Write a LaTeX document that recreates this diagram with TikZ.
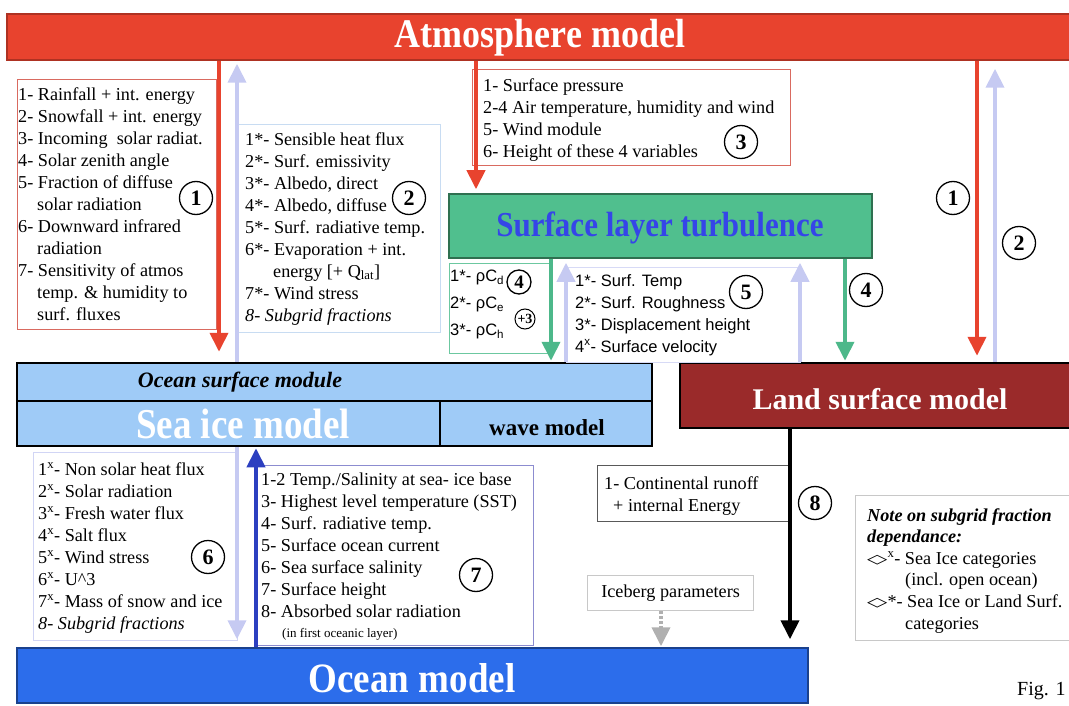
\documentclass[tikz,border=0pt]{standalone}
\usepackage{fontspec}
\usepackage{graphicx}
\setmainfont{Liberation Serif}
\newfontfamily\arialf{Liberation Sans}
\newfontfamily\djvb{DejaVu Sans Bold}
\usetikzlibrary{arrows.meta}
\definecolor{atmred}{HTML}{E8432E}
\definecolor{lav}{HTML}{C6CAF2}
\definecolor{grn}{HTML}{50BF8E}
\definecolor{grndark}{HTML}{2F7050}
\definecolor{grnarr}{HTML}{4DB88A}
\definecolor{sltblue}{HTML}{3545E8}
\definecolor{osmfill}{HTML}{9FCBF7}
\definecolor{landfill}{HTML}{9A2A2A}
\definecolor{oceanfill}{HTML}{2C6DEB}
\definecolor{bluearr}{HTML}{2C3FC0}
\definecolor{redbox}{HTML}{D96A60}
\definecolor{lbluebox}{HTML}{C8DCF2}
\definecolor{grnbox}{HTML}{6CC8A0}
\definecolor{box7}{HTML}{8C8CD0}
\definecolor{graybox}{HTML}{C8C8C8}
\definecolor{grayarr}{HTML}{B0B0B0}
\newcommand{\dia}{\raisebox{1pt}{\scalebox{1.45}[0.7]{\djvb ◇}}}
\newcommand{\tall}[1]{\scalebox{1}[1.13]{#1}}
\begin{document}
\begin{tikzpicture}[x=1pt,y=-1pt,
  bx/.style={draw=#1, line width=1.2pt, anchor=north west, inner sep=0pt},
  model/.style={inner sep=0pt, line width=1.5pt, text=white, font=\bfseries\fontsize{#1}{#1}\selectfont},
  ttl/.style={inner sep=0pt, font=\bfseries\fontsize{#1}{#1}\selectfont},
  txt/.style={anchor=north west, align=left, inner sep=0pt, font=\fontsize{18.2}{22}\selectfont},
  stxt/.style={anchor=north west, align=left, inner sep=0pt, font=\arialf\fontsize{16.5}{22}\selectfont},
  circ/.style={circle, draw, line width=1.3pt, inner sep=0pt, minimum size=33pt, font=\bfseries\fontsize{22}{22}\selectfont},
  arr/.style={line width=4pt, -{Triangle[width=18pt,length=19pt]}}
]
\useasboundingbox (0,0) rectangle (1069,706);

% model boxes
\node[draw=atmred!75!black, fill=atmred, line width=1.5pt, minimum width=1068pt, minimum height=46pt] (atm) at (541,37) {};
\node[draw=grndark, fill=grn, line width=1.5pt, minimum width=423pt, minimum height=64pt] (slt) at (660.5,226) {};
\node[draw=black, fill=osmfill, line width=2.5pt, inner sep=0pt, minimum width=635pt, minimum height=83pt] (osm) at (334.5,404.5) {};
\node[draw=black, fill=landfill, line width=2.5pt, minimum width=395pt, minimum height=65pt] (land) at (877.5,395.5) {};
\node[draw=oceanfill!60!black, fill=oceanfill, line width=1.5pt, minimum width=791pt, minimum height=55pt] (ocean) at (412.5,675.5) {};

\node[ttl=36, text=white] (atmt) at (540,38) {\tall{Atmosphere model}};
\node[ttl=31, text=sltblue] (sltt) at (660,228) {\tall{Surface layer turbulence}};
\node[ttl=30, text=white] (landt) at (880,399) {Land surface model};
\node[ttl=37, text=white] (oceant) at (412,678) {\tall{Ocean model}};

% ocean surface module inner structure
\coordinate (hdiv) at (0,401);
\coordinate (vdiv) at (440,0);
\draw[line width=1.2pt] (osm.west |- hdiv) -- (osm.east |- hdiv);
\draw[line width=1.2pt] (vdiv |- hdiv) -- (osm.south -| vdiv);
\node[inner sep=0pt, font=\bfseries\itshape\fontsize{22}{22}\selectfont] (osmt) at (240,382) {Ocean surface module};
\node[ttl=37, text=white] (seaice) at (243,424) {\scalebox{1}[1.15]{Sea ice model}};
\node[ttl=23] (wave) at (547,428) {wave model};

% text boxes
\node[bx=redbox, minimum width=199pt, minimum height=250pt] (b1) at (17,79) {};
\node[bx=lbluebox, minimum width=203pt, minimum height=208pt] (b2) at (237,124) {};
\node[bx=redbox, minimum width=318pt, minimum height=96pt] (b3) at (472,69) {};
\node[bx=grnbox, minimum width=102pt, minimum height=90pt] (b4) at (449,263) {};
\node[bx=lav!70, minimum width=234pt, minimum height=95pt] (b5) at (566,267) {};
\node[bx=lav!80, minimum width=204pt, minimum height=188pt] (b6) at (33,452) {};
\node[bx=box7, minimum width=277pt, minimum height=180pt] (b7) at (256,465) {};
\node[bx=black!65, minimum width=193pt, minimum height=56pt] (bc) at (597,465) {};
\node[bx=graybox, minimum width=166pt, minimum height=35pt] (ice) at (587,575) {};
\node[bx=graybox, minimum width=230pt, minimum height=145pt] (note) at (855,495) {};

\node[txt] (t1) at (18,87) {1- Rainfall + int. energy\\
2- Snowfall + int. energy\\
3- Incoming\ \ solar radiat.\\
4- Solar zenith angle\\
5- Fraction of diffuse\\
\hspace*{19pt}solar radiation\\
6- Downward infrared\\
\hspace*{19pt}radiation\\
7- Sensitivity of atmos\\
\hspace*{19pt}temp. \& humidity to\\
\hspace*{19pt}surf. fluxes};

\node[txt] (t2) at (245,132) {1*- Sensible heat flux\\
2*- Surf. emissivity\\
3*- Albedo, direct\\
4*- Albedo, diffuse\\
5*- Surf. radiative temp.\\
6*- Evaporation + int.\\
\hspace*{28pt}energy [+ Q\textsubscript{lat}]\\
7*- Wind stress\\
\textit{8- Subgrid fractions}};

\node[txt] (t3) at (483,78) {1- Surface pressure\\
2-4 Air temperature, humidity and wind\\
5- Wind module\\
6- Height of these 4 variables};

\node[stxt, font=\arialf\fontsize{16.5}{27}\selectfont] (t4) at (450,270) {1*- ρC\textsubscript{d}\\
2*- ρC\textsubscript{e}\\
3*- ρC\textsubscript{h}};

\node[stxt] (t5) at (575,274) {1*- Surf. Temp\\
2*- Surf. Roughness\\
3*- Displacement height\\
4\textsuperscript{x}- Surface velocity};

\node[txt] (t6) at (38,462) {1\textsuperscript{x}- Non solar heat flux\\
2\textsuperscript{x}- Solar radiation\\
3\textsuperscript{x}- Fresh water flux\\
4\textsuperscript{x}- Salt flux\\
5\textsuperscript{x}- Wind stress\\
6\textsuperscript{x}- U\textasciicircum 3\\
7\textsuperscript{x}- Mass of snow and ice\\
\textit{8- Subgrid fractions}};

\node[txt] (t7) at (261,473) {1-2 Temp./Salinity at sea- ice base\\
3- Highest level temperature (SST)\\
4- Surf. radiative temp.\\
5- Surface ocean current\\
6- Sea surface salinity\\
7- Surface height\\
8- Absorbed solar radiation};
\node[anchor=base west, inner sep=0pt, font=\fontsize{13}{15}\selectfont] (t7b) at (282,637) {(in first oceanic layer)};

\node[txt] (tc) at (604,476) {1- Continental runoff\\
\hspace*{9pt}+ internal Energy};

\node[inner sep=0pt, font=\fontsize{18.2}{22}\selectfont] (icet) at (ice) {Iceberg parameters};

\node[txt, font=\fontsize{18.2}{21.6}\selectfont] (tn) at (867,508) {\textbf{\textit{Note on subgrid fraction}}\\
\textbf{\textit{dependance:}}\\
\dia\textsuperscript{x}- Sea Ice categories\\
\hspace*{38pt}(incl. open ocean)\\
\dia*- Sea Ice or Land Surf.\\
\hspace*{38pt}categories};

\node[anchor=base west, inner sep=0pt, font=\fontsize{20}{20}\selectfont] (fig) at (1017,695) {Fig. 1};

% arrows
\coordinate (xa) at (219,0);
\coordinate (xb) at (237,0);
\coordinate (xc) at (476,0);
\coordinate (xd) at (551,0);
\coordinate (xe) at (566,0);
\coordinate (xf) at (800,0);
\coordinate (xg) at (845,0);
\coordinate (xh) at (977,0);
\coordinate (xi) at (995,0);
\coordinate (xj) at (256,0);
\coordinate (xk) at (790,0);
\coordinate (xl) at (661,0);

\draw[arr, lav, shorten >=3pt] (osm.north -| xb) -- (atm.south -| xb);
\draw[arr, atmred, shorten >=10pt] (atm.south -| xa) -- (osm.north -| xa);
\draw[arr, atmred, shorten >=4pt] (atm.south -| xc) -- (slt.north -| xc);
\draw[arr, grnarr, shorten >=1pt] (slt.south -| xd) -- (osm.north -| xd);
\draw[arr, lav, shorten >=4pt] (osm.north -| xe) -- (slt.south -| xe);
\draw[arr, lav, shorten >=4pt] (land.north -| xf) -- (slt.south -| xf);
\draw[arr, grnarr, shorten >=1pt] (slt.south -| xg) -- (land.north -| xg);
\draw[arr, atmred, shorten >=6pt] (atm.south -| xh) -- (land.north -| xh);
\draw[arr, lav, shorten >=8pt] (land.north -| xi) -- (atm.south -| xi);
\draw[arr, lav, shorten >=8pt] (osm.south -| xb) -- (ocean.north -| xb);
\draw[arr, bluearr, shorten >=1pt] (ocean.north -| xj) -- (osm.south -| xj);
\draw[arr, black, shorten >=8pt] (land.south -| xk) -- (ocean.north -| xk);
\draw[line width=4pt, grayarr, dash pattern=on 3pt off 2pt, -{Triangle[width=18pt,length=19pt]}, shorten >=1pt] (ice.south -| xl) -- (ocean.north -| xl);

% circled numbers
\node[circ] (c1a) at (196,198) {1};
\node[circ] (c2a) at (409,198) {2};
\node[circ] (c3) at (741,142) {3};
\node[circ, minimum size=24pt, font=\bfseries\fontsize{19}{19}\selectfont] (c4a) at (519,282) {4};
\node[circ, minimum size=20pt, line width=1pt, font=\bfseries\fontsize{14}{14}\selectfont] (c4b) at (525,319) {\kern-1pt+3\kern-1pt};
\node[circ] (c5) at (746,292) {5};
\node[circ] (c4c) at (866,290) {4};
\node[circ] (c1b) at (953,198) {1};
\node[circ] (c2b) at (1019,243) {2};
\node[circ] (c6) at (208,557) {6};
\node[circ] (c7) at (476,575) {7};
\node[circ] (c8) at (815,503) {8};
\end{tikzpicture}
\end{document}
